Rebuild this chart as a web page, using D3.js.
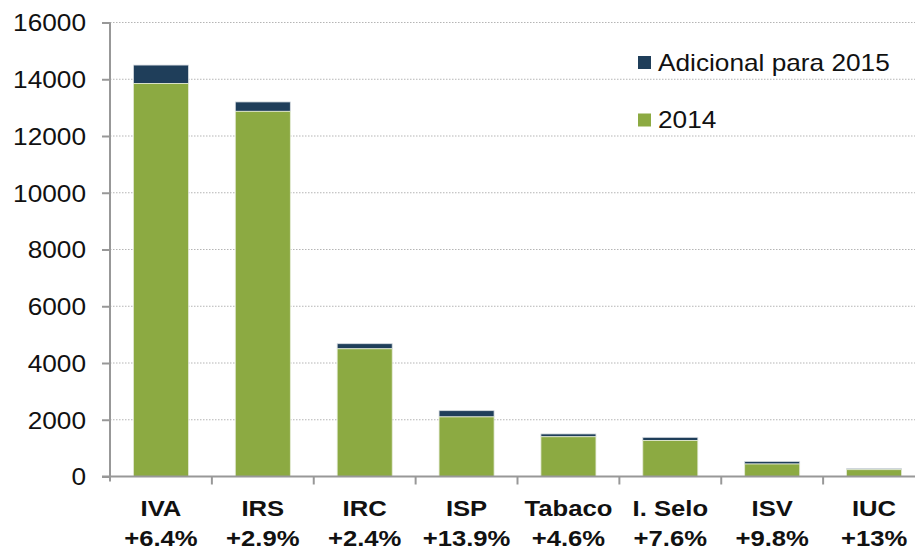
<!DOCTYPE html>
<html>
<head>
<meta charset="utf-8">
<script src="https://cdn.jsdelivr.net/npm/d3@7"></script>
<style>
  body { margin: 0; background: #fff; }
  svg { display: block; font-family: "Liberation Sans", Arial, sans-serif; }
  .grid line { stroke: #b5b5b5; stroke-dasharray: 1.5 1.5; }
  .axis path, .axis line { stroke: #989898; stroke-width: 2; }
</style>
</head>
<body>
<svg width="915" height="549"></svg>
<script>
// values
var categories = ["IVA", "IRS", "IRC", "ISP", "Tabaco", "I. Selo", "ISV", "IUC"];
var growth = ["+6.4%", "+2.9%", "+2.4%", "+13.9%", "+4.6%", "+7.6%", "+9.8%", "+13%"];
var base2014 = [13850, 12870, 4500, 2100, 1400, 1270, 440, 240];
var extra2015 = [650, 330, 180, 220, 100, 110, 90, 35];
var yTicks = [0, 2000, 4000, 6000, 8000, 10000, 12000, 14000, 16000];
var seriesNames = ["Adicional para 2015", "2014"];
var colors = { base: "#8caa42", extra: "#1f3e5a" };

var svg = d3.select("svg");
var m = { left: 110, top: 22.5, bottom: 476.5, right: 925 };
var stretch = 1.14; // the source text is a bit wider than it is tall

var x = d3.scaleBand().domain(categories).range([m.left, m.right]).paddingInner(0.46).paddingOuter(0.23);
var y = d3.scaleLinear().domain([0, 16000]).range([m.bottom, m.top]);

// dotted gridlines
svg.append("g").attr("class", "grid")
  .selectAll("line").data(yTicks.filter(function(d){ return d > 0; }))
  .enter().append("line")
    .attr("x1", m.left).attr("x2", 915)
    .attr("y1", function(d){ return y(d); }).attr("y2", function(d){ return y(d); });

// bars
var bars = svg.append("g").attr("class", "bars");
categories.forEach(function(c, i){
  bars.append("rect")
    .attr("x", x(c)).attr("width", x.bandwidth())
    .attr("y", y(base2014[i] + extra2015[i]))
    .attr("height", y(base2014[i]) - y(base2014[i] + extra2015[i]))
    .attr("fill", colors.extra)
    .attr("stroke", "#d8dde2").attr("stroke-width", 0.8);
  bars.append("rect")
    .attr("x", x(c)).attr("width", x.bandwidth())
    .attr("y", y(base2014[i]))
    .attr("height", y(0) - y(base2014[i]))
    .attr("fill", colors.base)
    .attr("stroke", "#e4ead6").attr("stroke-width", 0.8);
});

// y axis
var yAxis = svg.append("g").attr("class", "axis axis-y")
  .attr("transform", "translate(" + m.left + ",0)")
  .call(d3.axisLeft(y).tickValues(yTicks).tickSize(8).tickFormat(d3.format("d")).tickSizeOuter(0));
yAxis.selectAll("text")
  .attr("x", 0).attr("dy", "0.36em")
  .attr("transform", "translate(-24,0) scale(" + stretch + ",1)")
  .attr("fill", "#111").style("font-size", "23px");
yAxis.select("path").attr("d", "M0," + m.top + "V" + (m.bottom + 5));

// x axis with ticks between categories
var xg = svg.append("g").attr("class", "axis axis-x");
xg.append("line").attr("x1", m.left - 8).attr("x2", 915).attr("y1", m.bottom).attr("y2", m.bottom);
var step = x.step();
d3.range(1, categories.length + 1).forEach(function(k){
  var xx = m.left + k * step;
  xg.append("line").attr("x1", xx).attr("x2", xx).attr("y1", m.bottom).attr("y2", m.bottom + 8);
});

var labels = svg.append("g").attr("class", "x-labels")
  .attr("font-weight", "bold").attr("font-size", "22.5px").attr("fill", "#111").attr("text-anchor", "middle");
categories.forEach(function(c, i){
  var cx = x(c) + x.bandwidth() / 2;
  labels.append("text").attr("transform", "translate(" + cx + ",516) scale(" + stretch + ",1)").text(c);
  labels.append("text").attr("transform", "translate(" + cx + ",545.5) scale(" + stretch + ",1)").text(growth[i]);
});

// legend
var legend = svg.append("g").attr("class", "legend");
[[seriesNames[0], colors.extra, 62.5], [seriesNames[1], colors.base, 120]].forEach(function(l){
  legend.append("rect").attr("x", 638).attr("y", l[2] - 6.5).attr("width", 13).attr("height", 13).attr("fill", l[1]);
  legend.append("text")
    .attr("transform", "translate(658," + (l[2] + 8) + ") scale(" + stretch + ",1)")
    .attr("font-size", "23px").attr("fill", "#111").text(l[0]);
});
</script>
</body>
</html>
